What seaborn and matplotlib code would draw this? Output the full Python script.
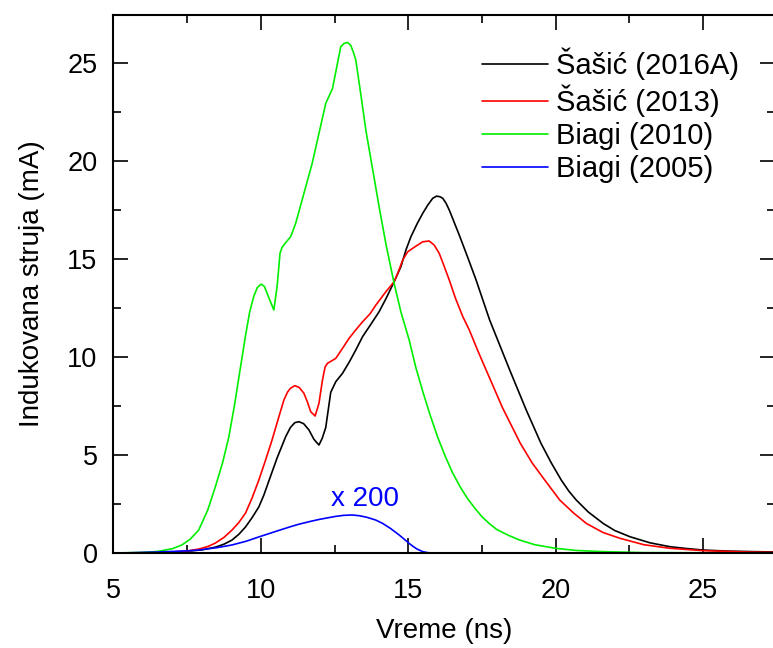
import numpy as np
import pandas as pd
import matplotlib
matplotlib.use("Agg")
import matplotlib.pyplot as plt
import seaborn as sns
from matplotlib.ticker import MultipleLocator

# Induced current vs. time for four cross-section sets
sasic2016_t = [5, 6, 7, 7.5, 8, 8.46, 8.75, 9.02, 9.25, 9.48, 9.7, 9.93, 10.1, 10.3,
               10.55, 10.84, 11.0, 11.15, 11.29, 11.45, 11.63, 11.8, 11.97, 12.08,
               12.2, 12.37, 12.54, 12.77, 13.0, 13.22, 13.45, 13.7, 14.01, 14.25,
               14.52, 14.75, 14.92, 15.09, 15.3, 15.49, 15.66, 15.83, 15.96, 16.07,
               16.17, 16.28, 16.39, 16.55, 16.73, 17.0, 17.3, 17.76, 18.44, 19.0,
               19.5, 19.85, 20.19, 20.45, 20.7, 21.1, 21.61, 22.0, 22.52, 23.2,
               23.88, 24.5, 25.01, 25.8, 26.7, 27.44]
sasic2016_i = [0, 0.01, 0.05, 0.09, 0.16, 0.3, 0.45, 0.66, 0.95, 1.33, 1.8, 2.35, 2.95, 3.8,
               4.85, 5.93, 6.4, 6.65, 6.7, 6.6, 6.28, 5.8, 5.51, 5.85,
               6.4, 8.2, 8.74, 9.17, 9.75, 10.36, 11.04, 11.6, 12.31, 13.0,
               13.84, 14.61, 15.46, 16.14, 16.8, 17.33, 17.75, 18.1, 18.21, 18.18,
               18.1, 17.85, 17.5, 16.9, 16.22, 15.15, 13.93, 11.89, 9.34, 7.3,
               5.6, 4.6, 3.72, 3.15, 2.7, 2.1, 1.51, 1.15, 0.83, 0.52,
               0.32, 0.22, 0.15, 0.1, 0.07, 0.05]

sasic2013_t = [5, 6, 7, 7.5, 7.89, 8.2, 8.46, 8.75, 9.02, 9.25, 9.48, 9.7, 9.93, 10.15,
               10.38, 10.6, 10.78, 10.9, 11.0, 11.15, 11.3, 11.46, 11.58, 11.69, 11.84,
               11.97, 12.09, 12.18, 12.26, 12.54, 12.75, 12.99, 13.2, 13.45, 13.7,
               13.9, 14.24, 14.52, 14.65, 14.81, 14.98, 15.2, 15.49, 15.71, 15.88,
               16.05, 16.2, 16.39, 16.6, 16.85, 17.07, 17.35, 17.64, 18.2, 18.8,
               19.2, 19.63, 20.14, 20.6, 21.04, 21.6, 22.18, 23.0, 23.88, 25.0,
               26.5, 27.44]
sasic2013_i = [0, 0.01, 0.05, 0.1, 0.2, 0.33, 0.51, 0.8, 1.17, 1.55, 2.04, 2.8, 3.72, 4.7,
               5.77, 6.9, 7.8, 8.2, 8.4, 8.54, 8.45, 8.15, 7.7, 7.21, 6.99,
               7.64, 8.83, 9.5, 9.68, 9.93, 10.4, 10.95, 11.35, 11.8, 12.2,
               12.65, 13.33, 13.84, 14.3, 14.95, 15.37, 15.6, 15.88, 15.92, 15.71,
               15.29, 14.7, 13.93, 13.0, 12.06, 11.38, 10.35, 9.34, 7.4, 5.6,
               4.6, 3.72, 2.7, 2.05, 1.51, 1.05, 0.75, 0.42, 0.24, 0.12,
               0.05, 0.03]

biagi2010_t = [5, 6, 6.5, 7.0, 7.32, 7.6, 7.89, 8.2, 8.46, 8.7, 8.91, 9.1, 9.3, 9.48,
               9.62, 9.76, 9.88, 10.01, 10.12, 10.25, 10.44, 10.55, 10.65, 10.72, 10.85,
               11.01, 11.18, 11.74, 12.2, 12.43, 12.6, 12.71, 12.82, 12.94, 13.05,
               13.15, 13.22, 13.4, 13.56, 13.8, 14.01, 14.25, 14.52, 14.75, 15.03,
               15.25, 15.5, 15.75, 16.0, 16.25, 16.5, 16.75, 17.0, 17.25, 17.5,
               17.75, 18.0, 18.4, 18.78, 19.3, 19.99, 20.7, 21.6, 23.0, 27.44]
biagi2010_i = [0, 0.03, 0.08, 0.22, 0.41, 0.7, 1.17, 2.2, 3.4, 4.6, 5.9, 7.5, 9.4, 11.1,
               12.3, 13.1, 13.55, 13.72, 13.6, 13.1, 12.4, 13.6, 15.3, 15.6, 15.85,
               16.14, 16.82, 19.88, 22.94, 23.7, 25.0, 25.83, 26.0, 26.05, 25.9,
               25.5, 25.15, 23.3, 21.58, 19.5, 17.67, 15.7, 13.76, 12.3, 10.87,
               9.5, 8.2, 7.0, 5.9, 4.95, 4.1, 3.4, 2.8, 2.3, 1.85,
               1.5, 1.2, 0.9, 0.66, 0.42, 0.24, 0.13, 0.07, 0.02, 0]

# Biagi (2005) is very small, so it is drawn magnified
BIAGI2005_SCALE = 200
biagi2005_t = [5, 5.5, 6, 6.5, 7, 7.5, 7.89, 8.5, 9.02, 9.5, 9.93, 10.5, 11.0, 11.29,
               11.7, 12.0, 12.5, 12.8, 13.1, 13.35, 13.6, 13.9, 14.13, 14.4, 14.69,
               14.85, 15.03, 15.15, 15.3, 15.49, 15.65, 15.8, 27.44]
biagi2005_i = [0, 0.00005, 0.00015, 0.00025, 0.0004, 0.00055, 0.00075, 0.00135, 0.00205,
               0.003, 0.0041, 0.0055, 0.0067, 0.00735, 0.0081, 0.0086, 0.0093, 0.0096,
               0.0097, 0.0095, 0.0091, 0.0084, 0.00755, 0.00625, 0.0046, 0.0036,
               0.00245, 0.00175, 0.001, 0.00035, 0.0001, 0, 0]

labels = ["Šašić (2016A)", "Šašić (2013)", "Biagi (2010)", "Biagi (2005)"]
colors = ["#000000", "#ff0000", "#00ee00", "#0000ff"]

frames = []
for lab, t, i, k in [(labels[0], sasic2016_t, sasic2016_i, 1),
                     (labels[1], sasic2013_t, sasic2013_i, 1),
                     (labels[2], biagi2010_t, biagi2010_i, 1),
                     (labels[3], biagi2005_t, biagi2005_i, BIAGI2005_SCALE)]:
    frames.append(pd.DataFrame({"t": t, "i": np.array(i) * k, "set": lab}))
df = pd.concat(frames, ignore_index=True)

sns.set_theme(style="ticks")
plt.rcParams["font.family"] = ["Liberation Sans", "DejaVu Sans"]
plt.rcParams["text.color"] = "black"
plt.rcParams["axes.labelcolor"] = "black"

fig = plt.figure(figsize=(7.73, 6.48), dpi=100)
ax = fig.add_axes([0.1468, 0.1466, 0.8558, 0.8302])

sns.lineplot(data=df, x="t", y="i", hue="set", hue_order=labels,
             palette=colors, estimator=None, sort=False, linewidth=1.2, ax=ax)

ax.set_xlim(5, 27.44)
ax.set_ylim(0, 27.45)
ax.xaxis.set_major_locator(MultipleLocator(5))
ax.xaxis.set_minor_locator(MultipleLocator(2.5))
ax.yaxis.set_major_locator(MultipleLocator(5))
ax.yaxis.set_minor_locator(MultipleLocator(2.5))
ax.tick_params(which="both", direction="in", top=True, right=True,
               width=1.2, colors="black", labelsize=19.5)
ax.tick_params(which="major", length=11)
ax.tick_params(which="minor", length=5.5)
ax.tick_params(axis="x", which="major", pad=18)
ax.tick_params(axis="y", which="major", pad=11.5)
for s in ax.spines.values():
    s.set_linewidth(1.5)
    s.set_color("black")

ax.set_xlabel("Vreme (ns)", fontsize=20, labelpad=10, color="black")
ax.set_ylabel("Indukovana struja (mA)", fontsize=20, labelpad=16, color="black")

ax.text(13.53, 2.76, f"x {BIAGI2005_SCALE}", color="#0000ff", fontsize=20,
        ha="center", va="center")

leg = ax.legend(loc="upper left", bbox_to_anchor=(0.557, 0.94), frameon=False,
                fontsize=21, handlelength=2.25, handletextpad=0.3,
                labelspacing=0.17, borderaxespad=0, borderpad=0)
for line in leg.get_lines():
    line.set_linewidth(1.2)
for txt in leg.get_texts():
    txt.set_color("black")

fig.savefig("out.png", dpi=100)
